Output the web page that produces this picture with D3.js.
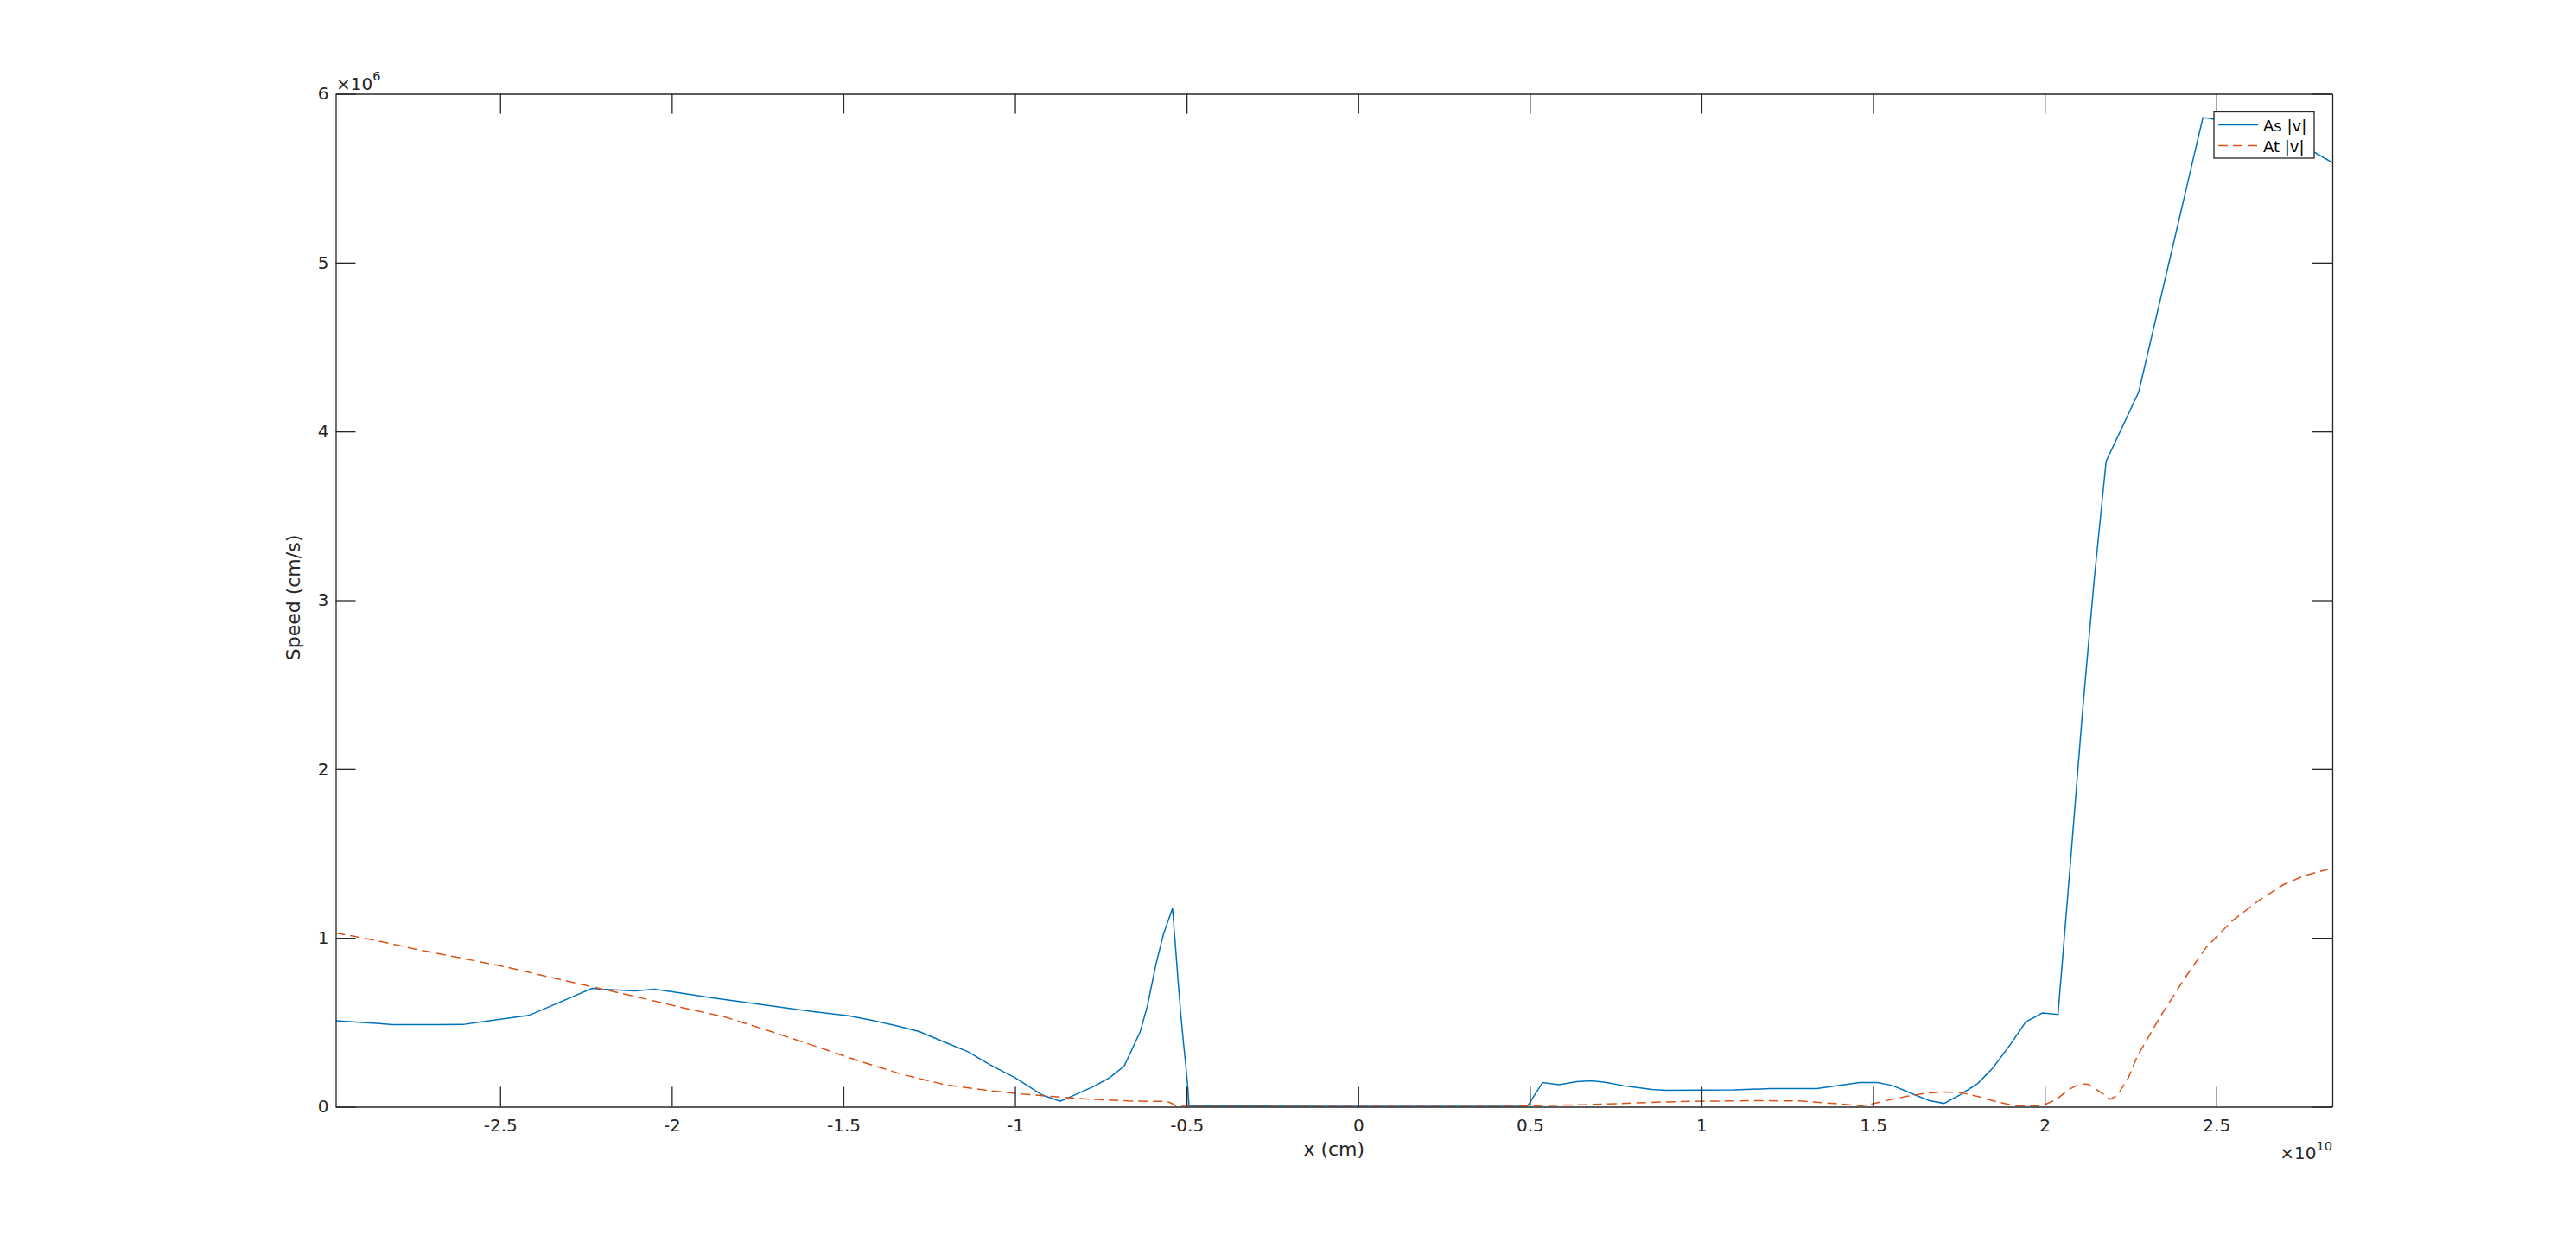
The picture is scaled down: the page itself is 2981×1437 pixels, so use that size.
<!DOCTYPE html>
<html>
<head>
<meta charset="utf-8">
<script src="https://cdn.jsdelivr.net/npm/d3@7"></script>
<style>
  body { margin: 0; background: #ffffff; }
  svg { display: block; font-family: "DejaVu Sans", sans-serif; }
</style>
</head>
<body>
<svg></svg>
<script>
// x in units of 1e10 cm, speed in units of 1e6 cm/s
let asX = [-2.979, -2.93, -2.852, -2.814, -2.608, -2.563, -2.486, -2.416, -2.232, -2.204,
  -2.107, -2.05, -1.998, -1.882, -1.716, -1.587, -1.484, -1.42, -1.343, -1.279,
  -1.202, -1.137, -1.073, -1.0, -0.921, -0.868, -0.826, -0.77, -0.724, -0.682,
  -0.635, -0.614, -0.59, -0.567, -0.541, -0.534, -0.525, -0.517, -0.509, -0.502,
  -0.496, -0.493, 0.0, 0.493, 0.537, 0.585, 0.636, 0.678, 0.72, 0.783,
  0.856, 0.897, 1.096, 1.2, 1.336, 1.398, 1.461, 1.513, 1.555, 1.597,
  1.628, 1.665, 1.707, 1.753, 1.805, 1.85, 1.9, 1.945, 1.993, 2.039,
  2.043, 2.076, 2.11, 2.144, 2.179, 2.274, 2.461, 2.488, 2.787, 2.838]
let asV = [0.51, 0.503, 0.493, 0.486, 0.487, 0.5, 0.522, 0.541, 0.701, 0.696,
  0.686, 0.696, 0.681, 0.645, 0.599, 0.563, 0.539, 0.513, 0.479, 0.445,
  0.38, 0.326, 0.249, 0.172, 0.07, 0.032, 0.07, 0.121, 0.172, 0.24,
  0.445, 0.599, 0.838, 1.025, 1.175, 0.991, 0.752, 0.548, 0.377, 0.24,
  0.104, 0.005, 0.002, 0.003, 0.143, 0.13, 0.148, 0.154, 0.145, 0.121,
  0.102, 0.097, 0.1, 0.107, 0.107, 0.126, 0.143, 0.143, 0.126, 0.092,
  0.065, 0.036, 0.02, 0.07, 0.138, 0.232, 0.369, 0.502, 0.555, 0.547,
  0.651, 1.47, 2.335, 3.118, 3.823, 4.234, 5.859, 5.851, 5.652, 5.593]

let atX = [-2.979, -2.923, -2.846, -2.743, -2.615, -2.486, -2.358, -2.23, -2.101, -1.973,
  -1.844, -1.716, -1.588, -1.459, -1.331, -1.203, -1.074, -0.984, -0.893, -0.781,
  -0.669, -0.556, -0.543, -0.528, 0.0, 0.45, 0.553, 0.658, 0.762, 0.866,
  0.97, 1.075, 1.179, 1.284, 1.388, 1.466, 1.492, 1.544, 1.597, 1.649,
  1.701, 1.753, 1.805, 1.857, 1.91, 1.993, 2.035, 2.068, 2.102, 2.127,
  2.169, 2.19, 2.211, 2.244, 2.27, 2.337, 2.404, 2.471, 2.546, 2.622,
  2.697, 2.756, 2.826]
let atV = [1.029, 1.008, 0.978, 0.932, 0.881, 0.829, 0.769, 0.71, 0.65, 0.589,
  0.531, 0.449, 0.363, 0.274, 0.193, 0.13, 0.095, 0.076, 0.061, 0.044,
  0.034, 0.031, 0.019, 0.002, 0.001, 0.002, 0.008, 0.012, 0.019, 0.027,
  0.032, 0.034, 0.036, 0.034, 0.019, 0.005, 0.014, 0.039, 0.061, 0.078,
  0.087, 0.085, 0.061, 0.031, 0.007, 0.006, 0.044, 0.1, 0.135, 0.133,
  0.078, 0.044, 0.065, 0.172, 0.3, 0.534, 0.749, 0.945, 1.1, 1.219,
  1.317, 1.368, 1.407]

let xTicks = [-2.5, -2, -1.5, -1, -0.5, 0, 0.5, 1, 1.5, 2, 2.5]
let yTicks = [0, 1, 2, 3, 4, 5, 6]
let xDomain = [-2.979, 2.838]
let yDomain = [0, 6]

let seriesNames = ["As |v|", "At |v|"]
let seriesColors = ["#0072BD", "#D95319"]

let width = 2981
let height = 1437
let plotLeft = 388.5
let plotRight = 2699
let plotTop = 108.5
let plotBottom = 1280.5
let tickLen = 23
let axisColor = "#262626"

let xScale
let yScale

let svg = d3.select("svg")

let drawCanvas = () => {
    svg.attr("width", width)
    svg.attr("height", height)
    svg.append("rect")
        .attr("width", width)
        .attr("height", height)
        .attr("fill", "#ffffff")
}

let generateScales = () => {
    xScale = d3.scaleLinear().domain(xDomain).range([plotLeft, plotRight])
    yScale = d3.scaleLinear().domain(yDomain).range([plotBottom, plotTop])
}

let generateAxes = () => {
    let fmt = (d) => String(d)

    let xAxis = d3.axisBottom(xScale).tickValues(xTicks).tickFormat(fmt)
        .tickSizeInner(-tickLen).tickSizeOuter(0).tickPadding(14)
    let yAxis = d3.axisLeft(yScale).tickValues(yTicks).tickFormat(fmt)
        .tickSizeInner(-tickLen).tickSizeOuter(0).tickPadding(8)
    let xTop = d3.axisTop(xScale).tickValues(xTicks).tickFormat("")
        .tickSizeInner(-tickLen).tickSizeOuter(0)
    let yRight = d3.axisRight(yScale).tickValues(yTicks).tickFormat("")
        .tickSizeInner(-tickLen).tickSizeOuter(0)

    let axes = [
        [xAxis, "translate(0," + plotBottom + ")"],
        [yAxis, "translate(" + plotLeft + ",0)"],
        [xTop, "translate(0," + plotTop + ")"],
        [yRight, "translate(" + plotRight + ",0)"]
    ]
    axes.forEach(([ax, tr]) => {
        let g = svg.append("g").attr("transform", tr).call(ax)
        g.selectAll("path, line").attr("stroke", axisColor).attr("stroke-width", 1.3)
        g.selectAll("text").attr("fill", axisColor).style("font-size", "20px")
            .style("font-family", "'DejaVu Sans', sans-serif")
    })

    // exponent labels
    svg.append("text")
        .attr("x", 389).attr("y", 103.5)
        .attr("fill", axisColor)
        .style("font-size", "20px")
        .text("\u00d710")
        .append("tspan").attr("dy", -10.5).style("font-size", "14.5px").text("6")

    svg.append("text")
        .attr("x", plotRight).attr("y", 1340.5)
        .attr("text-anchor", "end")
        .attr("fill", axisColor)
        .style("font-size", "20px")
        .text("\u00d710")
        .append("tspan").attr("dy", -10).style("font-size", "14.5px").text("10")

    svg.append("text")
        .attr("x", (plotLeft + plotRight) / 2).attr("y", 1336.5)
        .attr("text-anchor", "middle")
        .attr("fill", axisColor)
        .style("font-size", "22px")
        .text("x (cm)")

    svg.append("text")
        .attr("transform", "translate(347," + ((plotTop + plotBottom) / 2 - 3) + ") rotate(-90)")
        .attr("text-anchor", "middle")
        .attr("fill", axisColor)
        .style("font-size", "22px")
        .text("Speed (cm/s)")
}

let drawLines = () => {
    svg.append("clipPath").attr("id", "plot-clip")
        .append("rect")
        .attr("x", plotLeft).attr("y", plotTop)
        .attr("width", plotRight - plotLeft).attr("height", plotBottom - plotTop)

    let line = d3.line()
        .x((d) => xScale(d[0]))
        .y((d) => yScale(d[1]))

    let asData = asX.map((x, i) => [x, asV[i]])
    let atData = atX.map((x, i) => [x, atV[i]])

    svg.append("path")
        .datum(asData)
        .attr("clip-path", "url(#plot-clip)")
        .attr("fill", "none")
        .attr("stroke", seriesColors[0])
        .attr("stroke-width", 1.5)
        .attr("d", line)

    svg.append("path")
        .datum(atData)
        .attr("clip-path", "url(#plot-clip)")
        .attr("fill", "none")
        .attr("stroke", seriesColors[1])
        .attr("stroke-width", 1.5)
        .attr("stroke-dasharray", "11,6")
        .attr("d", line)
}

let drawLegend = () => {
    let lg = svg.append("g")
    lg.append("rect")
        .attr("x", 2562).attr("y", 129.5)
        .attr("width", 116).attr("height", 53.5)
        .attr("fill", "#ffffff")
        .attr("stroke", axisColor)
        .attr("stroke-width", 1.3)

    seriesNames.forEach((name, i) => {
        let cy = 144.5 + i * 24
        lg.append("line")
            .attr("x1", 2567).attr("x2", 2613)
            .attr("y1", cy).attr("y2", cy)
            .attr("stroke", seriesColors[i])
            .attr("stroke-width", 1.5)
            .attr("stroke-dasharray", i === 1 ? "11,6" : null)
        lg.append("text")
            .attr("x", 2619).attr("y", cy + 7.5)
            .attr("fill", "#000000")
            .style("font-size", "18px")
            .text(name)
    })
}

drawCanvas()
generateScales()
drawLines()
generateAxes()
drawLegend()
</script>
</body>
</html>
